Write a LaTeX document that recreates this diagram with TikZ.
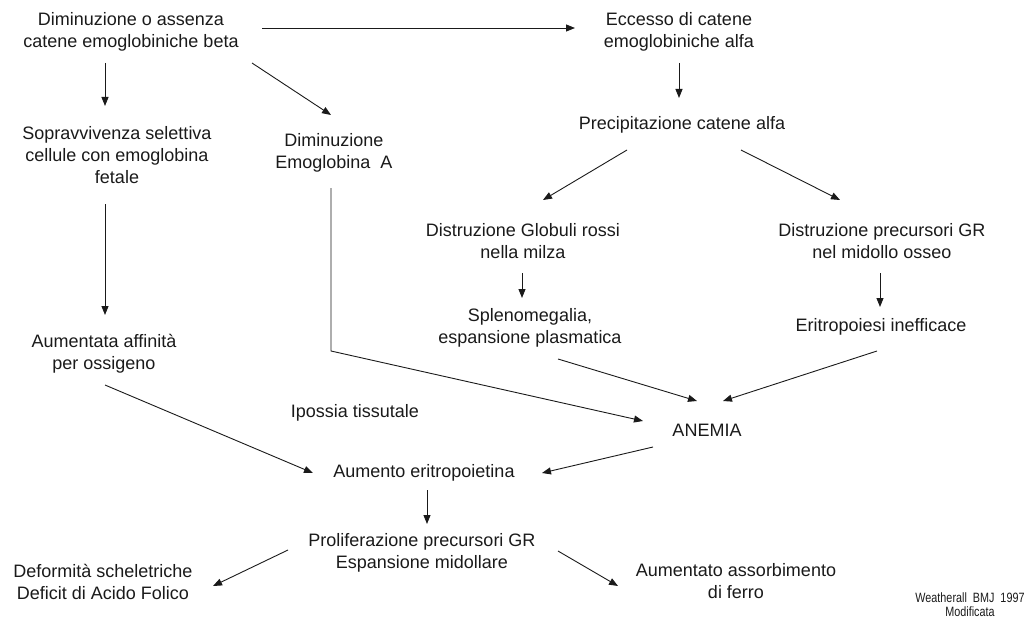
\documentclass[tikz,border=0pt]{standalone}
\usepackage{fontspec}
\setmainfont{Liberation Sans}
\usetikzlibrary{calc,arrows.meta}
\definecolor{ink}{HTML}{1A1A1A}
\tikzset{
  lbl/.style={inner sep=0pt, align=center, text=ink, font=\fontsize{18}{22}\selectfont},
  small/.style={inner sep=0pt, align=center, text=ink, font=\fontsize{13.5}{14}\selectfont},
  arr/.style={draw=ink, line width=0.9pt, -{Triangle[length=9pt,width=7pt]}}
}
\begin{document}
\begin{tikzpicture}[x=1pt,y=-1pt]
\useasboundingbox (0,0) rectangle (1029,618);
\node[lbl] (A) at (131,32) {Diminuzione o assenza\\catene emoglobiniche beta};
\node[lbl] (C) at (679,32) {Eccesso di catene\\emoglobiniche alfa};
\node[lbl] (D) at (117,155) {Sopravvivenza selettiva\\cellule con emoglobina\\fetale};
\node[lbl] (E) at (334,152.5) {Diminuzione\\Emoglobina\ \ A};
\node[lbl] (F) at (682,125) {Precipitazione catene alfa};
\node[lbl] (G) at (523,241) {Distruzione Globuli rossi\\nella milza};
\node[lbl] (H) at (882,241) {Distruzione precursori GR\\nel midollo osseo};
\node[lbl] (I) at (530,327.5) {Splenomegalia,\\espansione plasmatica};
\node[lbl] (J) at (881,327) {Eritropoiesi inefficace};
\node[lbl] (K) at (104,354) {Aumentata affinità\\per ossigeno};
\node[lbl] (L) at (707,430) {ANEMIA};
\node[lbl] (M) at (355,413) {Ipossia tissutale};
\node[lbl] (N) at (424,473) {Aumento eritropoietina};
\node[lbl] (O) at (422,553) {Proliferazione precursori GR\\Espansione midollare};
\node[lbl] (P) at (103,582) {Deformità scheletriche\\Deficit di Acido Folico};
\node[lbl] (Q) at (736,581) {Aumentato assorbimento\\di ferro};
\node[small] (R) at (970,605) {\scalebox{0.8}[1]{Weatherall\ \ BMJ\ \ 1997}\\\scalebox{0.8}[1]{Modificata}};

\draw[arr] ($(A)+(131,-4)$) -- ($(C)+(-104,-4)$);
\draw[arr] ($(A)+(-26,31)$) -- ($(D)+(-12,-49)$);
\draw[arr] ($(A)+(121,31)$) -- ($(E)+(-3,-37.5)$);
\draw[arr] ($(C)+(0,31)$) -- ($(F)+(-3,-27)$);
\draw[arr] ($(F)+(-55,25)$) -- ($(G)+(20,-41)$);
\draw[arr] ($(F)+(59,25)$) -- ($(H)+(-42,-41)$);
\draw[arr] ($(G)+(-1,32)$) -- ($(I)+(-8,-29.5)$);
\draw[arr] ($(H)+(-2,32)$) -- ($(J)+(-1,-20)$);
\draw[arr] ($(D)+(-12,49)$) -- ($(K)+(1,-39)$);
\draw[arr] ($(E)+(-3,35.5)$) -- ($(E)+(-3,198.5)$) -- ($(L)+(-64,-9)$);
\draw[arr] ($(I)+(28,31.5)$) -- ($(L)+(-10,-29)$);
\draw[arr] ($(J)+(-4,24)$) -- ($(L)+(16,-29)$);
\draw[arr] ($(K)+(1,31)$) -- ($(N)+(-111,0)$);
\draw[arr] ($(L)+(-54,17)$) -- ($(N)+(118,0)$);
\draw[arr] ($(N)+(3,17)$) -- ($(O)+(5,-29)$);
\draw[arr] ($(O)+(-134,-3)$) -- ($(P)+(110,4)$);
\draw[arr] ($(O)+(136,-2)$) -- ($(Q)+(-118,5)$);
\end{tikzpicture}
\end{document}
